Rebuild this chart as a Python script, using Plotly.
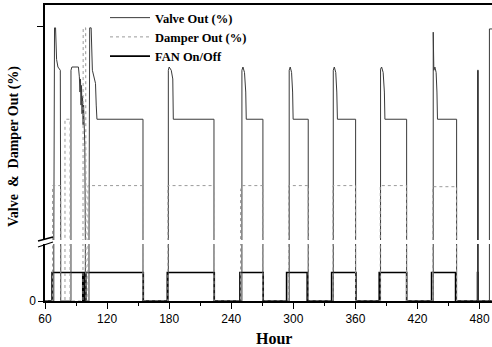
import plotly.graph_objects as go

# ---- data (hours, value) ----
valve_hours = [60, 68.5, 69.2, 70.2, 71.2, 72.5, 74.8, 75.2,
               85.1, 85.1, 86, 92.3, 93.2, 93.8, 94.3, 94.8, 95.3, 95.8, 96.3, 96.8, 97.3, 98.5, 99,
               102.5, 103.2, 104.6, 105.8, 107, 108.8, 109.5, 110.2, 154.7, 154.7,
               179.2, 179.2, 180, 182, 183.5, 184, 223.3, 223.3,
               250.3, 250.3, 251.3, 252.8, 254, 254.5, 270.6, 270.6,
               296, 296, 297, 298.3, 299.3, 299.8, 314.4, 314.4,
               338.6, 338.6, 339.6, 341, 342, 342.6, 360.2, 360.2,
               384.3, 384.3, 385.3, 386.8, 388, 388.5, 409.5, 409.5,
               435.2, 435.2, 435.6, 435.8, 436.8, 438, 438.8, 439.3, 457.8, 457.8,
               478.0, 478.0, 478.8, 478.8, 489.5, 489.5, 492]
valve_pct = [0, 0, 99.5, 99.5, 85, 81.5, 80, 0,
             0, 80, 81.5, 81.5, 77, 70, 76, 64, 73, 60, 68, 55, 64, 45, 0,
             0, 99.5, 99.5, 80, 78, 74, 64, 57.5, 57.5, 0,
             0, 80, 81.5, 80, 76, 57.5, 57.5, 0,
             0, 80, 81.5, 79, 70, 57.5, 57.5, 0,
             0, 80, 81.5, 79, 70, 57.5, 57.5, 0,
             0, 80, 81.5, 79, 70, 57.5, 57.5, 0,
             0, 80.5, 81.5, 79, 70, 57.5, 57.5, 0,
             0, 97.5, 97.5, 80, 81.5, 79, 70, 57.5, 57.5, 0,
             0, 80, 80, 0, 0, 99, 99]

damper_hours = [60, 67.3, 67.3, 75.2, 75.2, 79.3, 79.3, 84.2, 84.2,
                96.7, 96.9, 99.3, 99.6, 101.5, 101.5, 154.7, 154.7,
                178.8, 178.8, 223.3, 223.3,
                249, 249, 250.5, 270.6, 270.6,
                295.5, 295.5, 314.4, 314.4,
                338.3, 338.3, 360.2, 360.2,
                384, 384, 409.5, 409.5,
                434.8, 434.8, 457.8, 457.8, 492]
damper_pct = [0, 0, 27, 27, 0, 0, 57.5, 57.5, 0,
              0, 99.5, 99.5, 0, 0, 27, 27, 0,
              0, 27, 27, 0,
              0, 25, 27, 27, 0,
              0, 27, 27, 0,
              0, 27, 27, 0,
              0, 27, 27, 0,
              0, 26.5, 26.5, 0, 0]

fan_hours = [60, 66.8, 66.8, 96.5, 96.5, 97.5, 97.5, 98.5, 98.5, 99.5, 99.5, 155, 155,
             178.2, 178.2, 223.6, 223.6,
             248.4, 248.4, 270.9, 270.9,
             293.5, 293.5, 313.4, 313.4,
             337, 337, 360.5, 360.5,
             383, 383, 409.5, 409.5,
             433.6, 433.6, 456.8, 456.8,
             478, 478, 478.6, 478.6, 492]
fan_state = [0, 0, 1, 1, 0, 0, 1, 1, 0, 0, 1, 1, 0,
             0, 1, 1, 0,
             0, 1, 1, 0,
             0, 1, 1, 0,
             0, 1, 1, 0,
             0, 1, 1, 0,
             0, 1, 1, 0,
             0, 1, 1, 0, 0]

x_ticks = [60, 120, 180, 240, 300, 360, 420, 480]

serif = "Liberation Serif"
sans = "Liberation Sans"

valve_style = dict(color="#3a3a3a", width=1)
damper_style = dict(color="#9a9a9a", width=1, dash="dot")
fan_style = dict(color="#000000", width=1.6)

fig = go.Figure()
# upper panel (percent)
fig.add_trace(go.Scatter(x=valve_hours, y=valve_pct, mode="lines", line=valve_style,
                         name="<b>Valve Out (%)</b>", xaxis="x2", yaxis="y2"))
fig.add_trace(go.Scatter(x=damper_hours, y=damper_pct, mode="lines", line=damper_style,
                         name="<b>Damper Out (%)</b>", xaxis="x2", yaxis="y2"))
fig.add_trace(go.Scatter(x=fan_hours, y=fan_state, mode="lines", line=fan_style,
                         name="<b>FAN On/Off</b>", xaxis="x", yaxis="y"))
# lower panel continuation of valve / damper
fig.add_trace(go.Scatter(x=valve_hours, y=valve_pct, mode="lines", line=valve_style,
                         showlegend=False, xaxis="x", yaxis="y"))
fig.add_trace(go.Scatter(x=damper_hours, y=damper_pct, mode="lines", line=damper_style,
                         showlegend=False, xaxis="x", yaxis="y"))

L, R, T, B = 45, 0, 5, 46
W, H = 492, 347
pw, ph = W - L - R, H - T - B

def px(xp):
    return (xp - L) / pw

def py(yp):
    return (H - B - yp) / ph

fig.update_layout(
    width=W, height=H,
    margin=dict(l=L, r=R, t=T, b=B),
    paper_bgcolor="white", plot_bgcolor="white",
    showlegend=True,
    legend=dict(x=px(105), y=py(3), xanchor="left", yanchor="top",
                bgcolor="rgba(0,0,0,0)", itemwidth=40,
                font=dict(family=serif, size=12.5, color="black"),
                tracegroupgap=0),
    xaxis=dict(domain=[0, 1], anchor="y", range=[60, 492],
               tickvals=x_ticks, ticks="outside", ticklen=6, tickwidth=1.2,
               tickcolor="black", showline=True, linecolor="black", linewidth=2,
               showgrid=False, zeroline=False,
               tickfont=dict(family=sans, size=12, color="black"),
               minor=dict(tickvals=[90, 150, 210, 270, 330, 390, 450], ticks="outside",
                          ticklen=3, tickcolor="black", showgrid=False)),
    xaxis2=dict(domain=[0, 1], anchor="y2", matches="x", side="top",
                showticklabels=False, ticks="", showline=True, linecolor="black",
                linewidth=1.5, showgrid=False, zeroline=False),
    yaxis=dict(domain=[0, py(244)], anchor="x", range=[0, 2],
               tickvals=[0], ticktext=["0"], ticks="outside", ticklen=5,
               tickcolor="black", showline=True, linecolor="black", linewidth=1.5,
               showgrid=False, zeroline=False,
               tickfont=dict(family=sans, size=12, color="black")),
    yaxis2=dict(domain=[py(240), 1], anchor="x2", range=[2, 110],
                tickvals=[100], ticktext=[""], ticks="outside", ticklen=6,
                tickcolor="black", showline=True, linecolor="black", linewidth=1.5,
                showgrid=False, zeroline=False),
    shapes=[
        dict(type="line", xref="paper", yref="paper", x0=px(38), y0=py(241), x1=px(53), y1=py(237),
             line=dict(color="black", width=1.3)),
        dict(type="line", xref="paper", yref="paper", x0=px(38), y0=py(247), x1=px(53), y1=py(242),
             line=dict(color="black", width=1.3)),
    ],
    annotations=[
        dict(text="<b>Valve  &  Damper Out (%)</b>", xref="paper", yref="paper",
             x=px(14), y=py(147), textangle=-90, showarrow=False,
             xanchor="center", yanchor="middle",
             font=dict(family=serif, size=14, color="black")),
        dict(text="<b>Hour</b>", xref="paper", yref="paper",
             x=px(274), y=py(338), showarrow=False, xanchor="center", yanchor="middle",
             font=dict(family=serif, size=16, color="black")),
    ],
)

fig.write_html("out.html")
